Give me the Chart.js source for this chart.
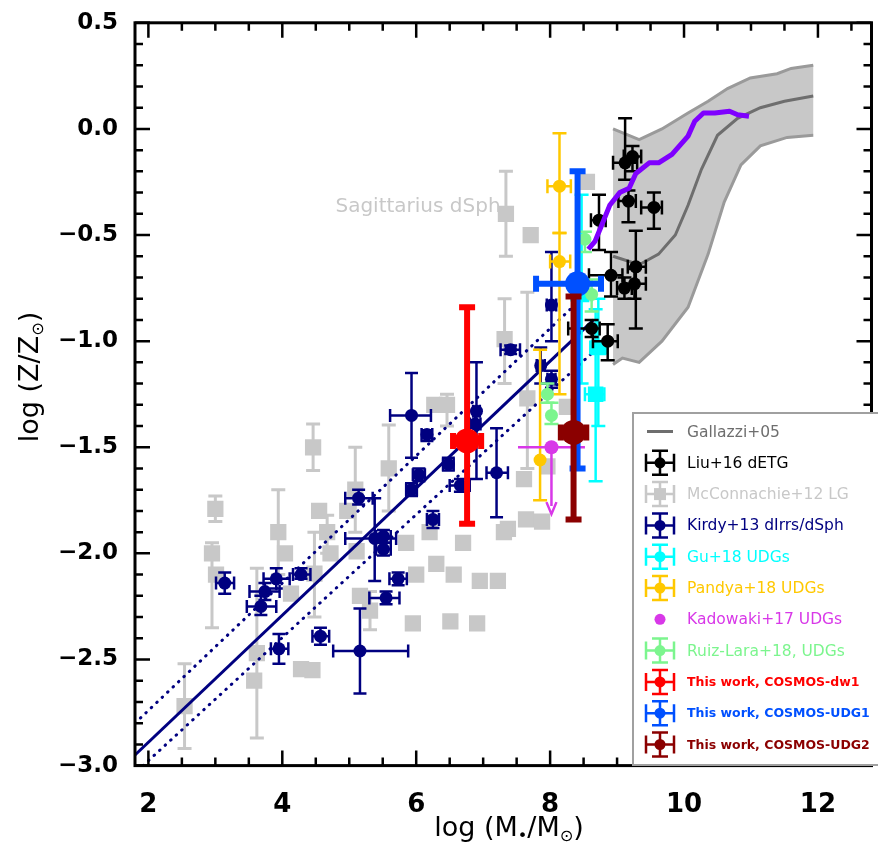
<!DOCTYPE html>
<html>
<head>
<meta charset="utf-8">
<script src="https://cdn.jsdelivr.net/npm/chart.js@4.4.0/dist/chart.umd.min.js"></script>
<style>
  html, body { margin: 0; padding: 0; background: #fff; overflow: hidden; }
  #wrap { width: 878px; height: 848px; overflow: hidden; }
  canvas { display: block; }
</style>
</head>
<body>
<div id="wrap"><canvas id="chart" width="884" height="848"></canvas></div>
<script>
// ---- axis ticks ----
const xTicks = [2, 4, 6, 8, 10, 12];
const yTicks = [-3.0, -2.5, -2.0, -1.5, -1.0, -0.5, 0.0, 0.5];

// ---- Gallazzi+05 band (upper edge, median, lower edge) ----
const galUpX = [8.94, 9.33, 9.67, 10.06, 10.36, 10.65, 10.99, 11.39, 11.6, 11.93];
const galUpY = [0.0, -0.05, 0.0, 0.075, 0.13, 0.19, 0.24, 0.26, 0.285, 0.30];
const galMedX = [8.94, 9.33, 9.62, 9.87, 10.06, 10.26, 10.5, 10.8, 11.14, 11.5, 11.93];
const galMedY = [-0.60, -0.64, -0.59, -0.50, -0.36, -0.19, -0.03, 0.05, 0.10, 0.13, 0.155];
const galLowX = [8.94, 9.08, 9.33, 9.67, 10.06, 10.36, 10.6, 10.85, 11.14, 11.54, 11.93];
const galLowY = [-1.11, -1.08, -1.10, -1.00, -0.84, -0.59, -0.345, -0.17, -0.08, -0.04, -0.03];

// ---- purple curve ----
const purpleX = [8.57, 8.67, 8.77, 8.89, 9.04, 9.18, 9.28, 9.48, 9.62, 9.82, 10.06, 10.16, 10.29, 10.46, 10.68, 10.8, 10.97];
const purpleY = [-0.567, -0.53, -0.454, -0.36, -0.30, -0.28, -0.21, -0.16, -0.16, -0.12, -0.034, 0.036, 0.075, 0.075, 0.083, 0.067, 0.06];

// ---- Kirby relation (solid + dotted) ----
const kirLineX = [1.8, 8.65];
const kirLineY = [-2.95, -0.90];
const kirUpX = [1.8, 8.6];
const kirUpY = [-2.80, -0.76];
const kirLowX = [1.92, 8.75];
const kirLowY = [-3.0, -1.02];

// rows: [x, y, xlo, xhi, ylo, yhi]
const liuPts = [
  [9.12, -0.16, 8.94, 9.30, -0.24, 0.05],
  [9.23, -0.13, 9.10, 9.36, -0.20, -0.08],
  [9.17, -0.34, 9.02, 9.28, -0.44, -0.29],
  [9.55, -0.37, 9.36, 9.67, -0.47, -0.30],
  [8.73, -0.43, 8.61, 8.83, -0.57, -0.31],
  [8.91, -0.69, 8.58, 9.08, -0.79, -0.58],
  [9.28, -0.65, 9.16, 9.43, -0.94, -0.48],
  [9.26, -0.73, 9.10, 9.43, -0.80, -0.66],
  [9.11, -0.75, 9.00, 9.22, -0.80, -0.70],
  [8.86, -1.00, 8.64, 9.01, -1.09, -0.92],
  [8.62, -0.94, 8.27, 8.74, -0.98, -0.90]
];

// rows: [x, y, ylo, yhi]
const mccPts = [
  [2.54, -2.72, -2.92, -2.52], [3.00, -1.79, -1.85, -1.73], [2.95, -2.00, -2.35, -1.95],
  [3.01, -2.10, null, null], [3.62, -2.47, -2.87, -2.07], [3.58, -2.60, null, null],
  [3.94, -1.90, -2.10, -1.70], [4.04, -2.00, null, null], [4.28, -2.545, null, null],
  [4.45, -2.55, null, null], [4.46, -1.50, -1.61, -1.39], [4.55, -1.80, null, null],
  [4.67, -1.90, -2.00, -1.82], [4.72, -2.00, null, null], [4.13, -2.19, null, null],
  [4.48, -2.095, -2.30, -1.90], [4.97, -1.80, null, null], [5.09, -1.70, -1.90, -1.50],
  [5.11, -1.99, null, null], [5.16, -2.20, null, null], [5.31, -2.27, -2.36, -2.18],
  [5.59, -1.60, -1.80, -1.395], [7.34, -0.40, -0.60, -0.20], [7.71, -0.50, null, null],
  [8.55, -0.25, null, null], [7.32, -0.99, -1.20, -0.80], [6.46, -1.30, -1.40, -1.25],
  [7.66, -1.27, -1.60, -0.77], [8.25, -1.31, null, null], [7.61, -1.65, null, null],
  [7.96, -1.59, null, null], [7.64, -1.84, null, null], [7.88, -1.85, null, null],
  [7.37, -1.885, null, null], [6.56, -2.10, null, null], [6.95, -2.13, null, null],
  [7.22, -2.13, null, null], [6.51, -2.32, null, null], [6.91, -2.33, null, null],
  [7.31, -1.90, null, null], [5.95, -2.33, null, null], [6.20, -1.90, null, null],
  [6.30, -2.05, null, null], [6.00, -2.10, null, null], [5.85, -1.95, null, null],
  [6.70, -1.95, null, null], [6.27, -1.30, null, null]
];

const kirPts = [
  [3.14, -2.14, 3.01, 3.28, -2.19, -2.09], [3.91, -2.12, 3.72, 4.11, -2.165, -2.07],
  [3.74, -2.18, 3.51, 3.96, -2.22, -2.14], [3.68, -2.25, 3.47, 3.91, -2.29, -2.20],
  [4.28, -2.10, 4.16, 4.42, -2.12, -2.07], [4.57, -2.39, 4.45, 4.70, -2.43, -2.35],
  [3.95, -2.45, 3.83, 4.09, -2.52, -2.38], [5.16, -2.46, 4.76, 5.88, -2.66, -2.26],
  [5.14, -1.74, 4.94, 5.35, -1.77, -1.70], [5.38, -1.93, 4.94, 5.70, -2.13, -1.74],
  [5.51, -1.92, 5.40, 5.62, -1.95, -1.89], [5.51, -1.98, 5.40, 5.62, -2.01, -1.95],
  [5.55, -2.21, 5.30, 5.75, -2.24, -2.18], [5.93, -1.35, 5.61, 6.22, -1.55, -1.15],
  [6.16, -1.44, 6.08, 6.24, -1.47, -1.42], [7.41, -1.04, 7.26, 7.55, -1.06, -1.02],
  [6.90, -1.33, 6.85, 6.95, -1.65, -1.10], [6.88, -1.39, 6.80, 6.96, -1.45, -1.33],
  [8.02, -0.83, 7.95, 8.09, -1.00, -0.58], [7.86, -1.115, 7.80, 7.92, -1.20, -1.03],
  [8.02, -1.18, 7.96, 8.08, -1.22, -1.14], [7.20, -1.62, 7.05, 7.37, -1.83, -1.41],
  [5.73, -2.12, 5.60, 5.86, -2.15, -2.09], [6.04, -1.63, 5.95, 6.13, -1.66, -1.60],
  [6.25, -1.84, 6.16, 6.34, -1.88, -1.80], [6.48, -1.58, 6.40, 6.56, -1.61, -1.55],
  [6.66, -1.68, 6.50, 6.80, -1.71, -1.65], [5.93, -1.70, 5.85, 6.01, -1.73, -1.67]
];

const guPts = [
  [8.47, -0.78, 8.32, 8.62, -1.20, -0.31],
  [8.72, -1.03, 8.60, 8.84, -1.40, -0.80],
  [8.68, -1.25, 8.52, 8.81, -1.66, -0.85]
];
const pandyaPts = [
  [8.14, -0.27, 7.96, 8.31, -0.49, -0.02],
  [8.14, -0.625, 8.00, 8.30, -1.25, -0.49],
  [7.85, -1.56, null, null, -1.75, -1.04]
];
// Kadowaki: [x, y, xlo, xhi, arrow tip y]
const kadoPts = [[8.02, -1.50, 7.52, 8.52, -1.815]];
const ruizPts = [
  [7.96, -1.25, null, null, -1.29, -1.20],
  [8.02, -1.35, null, null, -1.39, -1.29],
  [8.52, -0.52, null, null, -0.58, -0.485],
  [8.62, -0.78, null, null, -0.86, -0.71]
];
const dw1Pts = [[6.76, -1.47, 6.55, 6.97, -1.86, -0.84]];
const udg1Pts = [[8.41, -0.73, 7.79, 8.76, -1.60, -0.20]];
const udg2Pts = [[8.35, -1.43, 8.16, 8.54, -1.84, -0.79]];

const legendLabels = ['Gallazzi+05', 'Liu+16 dETG', 'McConnachie+12 LG', 'Kirdy+13 dIrrs/dSph',
  'Gu+18 UDGs', 'Pandya+18 UDGs', 'Kadowaki+17 UDGs', 'Ruiz-Lara+18, UDGs',
  'This work, COSMOS-dw1', 'This work, COSMOS-UDG1', 'This work, COSMOS-UDG2'];
const legendColors = ['#6e6e6e', '#000000', '#c8c8c8', '#000080', '#00ffff', '#ffc800',
  '#d838e8', '#7cf58e', '#ff0000', '#0050ff', '#8b0000'];

const xy = (xs, ys) => xs.map((x, i) => ({ x: x, y: ys[i] }));
const pts = rows => rows.map(r => ({ x: r[0], y: r[1] }));

// error bars, drawn just before each dataset's markers
function errRows(rows, hasX) {
  return rows.map(r => hasX ? r : [r[0], r[1], null, null, r[2], r[3]]);
}
const errPlugin = {
  id: 'errbars',
  beforeDatasetDraw(chart, args) {
    const ds = chart.data.datasets[args.index];
    if (!ds.err) return;
    const ctx = chart.ctx, xs = chart.scales.x, ys = chart.scales.y, a = chart.chartArea;
    const o = ds.errStyle;
    ctx.save();
    ctx.beginPath();
    ctx.rect(a.left, a.top, a.right - a.left, a.bottom - a.top);
    ctx.clip();
    ctx.strokeStyle = o.color;
    ctx.fillStyle = o.color;
    ctx.lineWidth = o.width;
    ds.err.forEach(r => {
      const px = xs.getPixelForValue(r[0]), py = ys.getPixelForValue(r[1]);
      ctx.beginPath();
      if (r[2] != null) {
        const l = xs.getPixelForValue(r[2]), h = xs.getPixelForValue(r[3]);
        ctx.moveTo(l, py); ctx.lineTo(h, py);
        if (o.cap) {
          ctx.moveTo(l, py - o.cap); ctx.lineTo(l, py + o.cap);
          ctx.moveTo(h, py - o.cap); ctx.lineTo(h, py + o.cap);
        }
      }
      if (o.arrow) {
        const t = ys.getPixelForValue(r[4]);
        ctx.moveTo(px, py); ctx.lineTo(px, t - 8);
        ctx.stroke();
        ctx.beginPath();
        ctx.moveTo(px - 5, t - 12); ctx.lineTo(px, t); ctx.lineTo(px + 5, t - 12);
        ctx.stroke();
        return;
      }
      if (r[4] != null) {
        const l = ys.getPixelForValue(r[4]), h = ys.getPixelForValue(r[5]);
        ctx.moveTo(px, l); ctx.lineTo(px, h);
        if (o.cap) {
          ctx.moveTo(px - o.cap, l); ctx.lineTo(px + o.cap, l);
          ctx.moveTo(px - o.cap, h); ctx.lineTo(px + o.cap, h);
        }
      }
      ctx.stroke();
    });
    ctx.restore();
  }
};

// text with small lowered pieces (subscripts)
function richText(ctx, parts, cx, cy, size) {
  let w = 0;
  parts.forEach(p => { ctx.font = (p[1] ? size * 0.6 : size) + 'px "DejaVu Sans"'; w += ctx.measureText(p[0]).width; });
  let x = cx - w / 2;
  ctx.textBaseline = 'middle';
  ctx.textAlign = 'left';
  parts.forEach(p => {
    ctx.font = (p[1] ? size * 0.6 : size) + 'px "DejaVu Sans"';
    ctx.fillText(p[0], x, cy + (p[1] ? size * 0.3 : 0));
    x += ctx.measureText(p[0]).width;
  });
}

const framePlugin = {
  id: 'frame',
  afterDatasetsDraw(chart) {
    const ctx = chart.ctx, xs = chart.scales.x, ys = chart.scales.y, a = chart.chartArea;
    ctx.save();
    ctx.strokeStyle = '#000';
    ctx.lineWidth = 3;
    ctx.strokeRect(a.left, a.top, a.right - a.left, a.bottom - a.top);
    ctx.lineWidth = 2.5;
    ctx.beginPath();
    for (let v = 2; v <= 12.75; v += 0.5) {
      const p = xs.getPixelForValue(v);
      const len = Math.abs(v % 2) < 1e-6 ? 15 : 8;
      ctx.moveTo(p, a.bottom); ctx.lineTo(p, a.bottom - len);
      ctx.moveTo(p, a.top); ctx.lineTo(p, a.top + len);
    }
    for (let k = -30; k <= 5; k++) {
      const v = k / 10, p = ys.getPixelForValue(v);
      const len = k % 5 === 0 ? 15 : 8;
      ctx.moveTo(a.left, p); ctx.lineTo(a.left + len, p);
      ctx.moveTo(a.right, p); ctx.lineTo(a.right - len, p);
    }
    ctx.stroke();
    ctx.fillStyle = '#000';
    richText(ctx, [['log (M', 0], ['\u2022', 1], ['/M', 0], ['\u2299', 1], [')', 0]], 509, 829, 27);
    ctx.translate(31, 377);
    ctx.rotate(-Math.PI / 2);
    richText(ctx, [['log (Z/Z', 0], ['\u2299', 1], [')', 0]], 0, 0, 27);
    ctx.restore();
  },
  afterDraw(chart) {
    const ctx = chart.ctx;
    ctx.save();
    // Sagittarius label
    ctx.fillStyle = '#c8c8c8';
    ctx.font = '20px "DejaVu Sans"';
    ctx.textAlign = 'center';
    ctx.textBaseline = 'middle';
    ctx.fillText('Sagittarius dSph', 418, 207);
    // legend box
    ctx.fillStyle = '#fff';
    ctx.fillRect(633, 413, 260, 352);
    ctx.strokeStyle = '#a0a0a0';
    ctx.lineWidth = 2;
    ctx.strokeRect(633, 413, 260, 352);
    const sx = 660;
    legendLabels.forEach((t, i) => {
      const y = 431.5 + i * 31.3;
      const c = legendColors[i];
      ctx.strokeStyle = c; ctx.fillStyle = c;
      ctx.lineWidth = 2.5;
      if (i === 0) {
        ctx.lineWidth = 3;
        ctx.beginPath(); ctx.moveTo(647, y); ctx.lineTo(673, y); ctx.stroke();
      } else if (i === 6) {
        ctx.beginPath(); ctx.arc(sx, y, 5.5, 0, Math.PI * 2); ctx.fill();
      } else {
        ctx.beginPath();
        ctx.moveTo(sx - 14, y); ctx.lineTo(sx + 14, y);
        ctx.moveTo(sx - 14, y - 9); ctx.lineTo(sx - 14, y + 9);
        ctx.moveTo(sx + 14, y - 9); ctx.lineTo(sx + 14, y + 9);
        ctx.moveTo(sx, y - 12); ctx.lineTo(sx, y + 12);
        ctx.moveTo(sx - 8, y - 12); ctx.lineTo(sx + 8, y - 12);
        ctx.moveTo(sx - 8, y + 12); ctx.lineTo(sx + 8, y + 12);
        ctx.stroke();
        ctx.beginPath();
        if (i === 2) ctx.rect(sx - 6, y - 6, 12, 12);
        else ctx.arc(sx, y, 5.5, 0, Math.PI * 2);
        ctx.fill();
      }
      ctx.textAlign = 'left';
      ctx.textBaseline = 'middle';
      ctx.font = i >= 8 ? 'bold 12.5px "DejaVu Sans"' : '15.5px "DejaVu Sans"';
      ctx.fillText(t, 687, y + 1);
    });
    ctx.restore();
  }
};

function errSet(label, rows, hasX, color, errStyle, pointStyle, radius, order) {
  return {
    label: label, data: pts(rows), err: errRows(rows, hasX), errStyle: errStyle,
    pointStyle: pointStyle, pointRadius: radius, pointHoverRadius: radius,
    backgroundColor: color, borderColor: color, borderWidth: 0, showLine: false, order: order
  };
}
function lineSet(data, color, width, order, extra) {
  return Object.assign({
    data: data, showLine: true, pointRadius: 0, borderColor: color, borderWidth: width,
    fill: false, order: order
  }, extra || {});
}

const bandPoly = xy(galUpX.concat(galLowX.slice().reverse()), galUpY.concat(galLowY.slice().reverse()));

const datasets = [
  lineSet(bandPoly, 'rgba(0,0,0,0)', 0, 30, { fill: 'shape', backgroundColor: '#c8c8c8' }),
  lineSet(xy(galUpX, galUpY), '#9a9a9a', 3, 29),
  lineSet(xy(galLowX, galLowY), '#9a9a9a', 3, 29),
  lineSet(xy(galMedX, galMedY), '#6e6e6e', 3, 28),
  errSet('McConnachie+12 LG', mccPts, false, '#c8c8c8', { color: '#c8c8c8', width: 3, cap: 7 }, 'rect', 11.5, 27),
  errSet('Kirdy+13', kirPts, true, '#000080', { color: '#000080', width: 2.5, cap: 6.5 }, 'circle', 6.5, 26),
  lineSet(xy(kirLineX, kirLineY), '#000080', 3, 25),
  lineSet(xy(kirUpX, kirUpY), '#000080', 3, 25, { borderDash: [0.5, 7], borderCapStyle: 'round' }),
  lineSet(xy(kirLowX, kirLowY), '#000080', 3, 25, { borderDash: [0.5, 7], borderCapStyle: 'round' }),
  errSet('Gu+18', guPts, true, '#00ffff', { color: '#00ffff', width: 2.5, cap: 7 }, 'rect', 11, 24),
  errSet('Liu+16', liuPts, true, '#000000', { color: '#000000', width: 2.5, cap: 7 }, 'circle', 6.5, 23),
  errSet('Pandya+18', pandyaPts, true, '#ffc800', { color: '#ffc800', width: 2.5, cap: 7 }, 'circle', 6.5, 22),
  errSet('Ruiz-Lara+18', ruizPts, true, '#7cf58e', { color: '#7cf58e', width: 2.5, cap: 7 }, 'circle', 6.5, 21),
  errSet('Kadowaki+17', kadoPts.map(r => [r[0], r[1], r[2], r[3], r[4], null]), true, '#d838e8',
    { color: '#d838e8', width: 2.5, cap: 0, arrow: true }, 'circle', 7, 20),
  lineSet(xy(purpleX, purpleY), '#7f00ff', 5, 19, { borderJoinStyle: 'round' }),
  errSet('COSMOS-dw1', dw1Pts, true, '#ff0000', { color: '#ff0000', width: 6, cap: 8 }, 'circle', 12.5, 3),
  errSet('COSMOS-UDG1', udg1Pts, true, '#0050ff', { color: '#0050ff', width: 6, cap: 8 }, 'circle', 12.5, 2),
  errSet('COSMOS-UDG2', udg2Pts, true, '#8b0000', { color: '#8b0000', width: 6, cap: 8 }, 'circle', 12.5, 1)
];

new Chart(document.getElementById('chart'), {
  type: 'scatter',
  data: { datasets: datasets },
  options: {
    responsive: false,
    devicePixelRatio: 1,
    animation: false,
    layout: { padding: { top: 15.5, right: 2, left: 0, bottom: 0 } },
    plugins: { legend: { display: false }, tooltip: { enabled: false } },
    scales: {
      x: {
        type: 'linear', min: 1.8, max: 12.8,
        grid: { display: false }, border: { display: false },
        afterBuildTicks: s => { s.ticks = xTicks.map(v => ({ value: v })); },
        afterFit: s => { s.height = 82.4; },
        ticks: { color: '#000', padding: 16, font: { family: 'DejaVu Sans', size: 26, weight: 'bold' },
          callback: v => String(v) }
      },
      y: {
        type: 'linear', min: -3.0, max: 0.5,
        grid: { display: false }, border: { display: false },
        afterBuildTicks: s => { s.ticks = yTicks.map(v => ({ value: v })); },
        afterFit: s => { s.width = 135; },
        ticks: { color: '#000', padding: 9, font: { family: 'DejaVu Sans', size: 23, weight: 'bold' },
          callback: v => (v < 0 ? '\u2212' : '') + Math.abs(v).toFixed(1) }
      }
    }
  },
  plugins: [errPlugin, framePlugin]
});
</script>
</body>
</html>
